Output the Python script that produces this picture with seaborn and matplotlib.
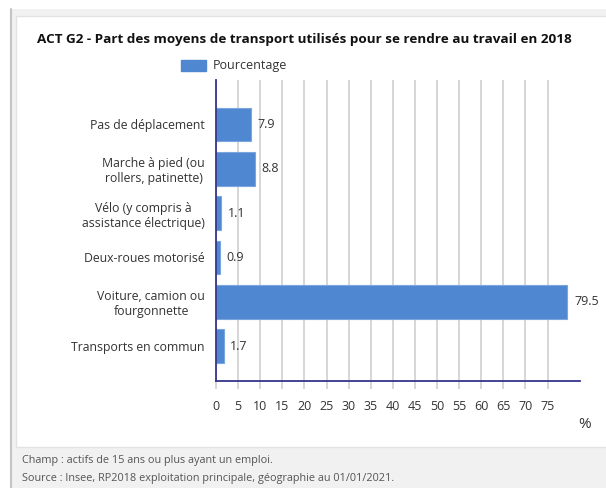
import matplotlib
matplotlib.use("Agg")
import matplotlib.pyplot as plt
import matplotlib.patches as mpatches
import matplotlib.lines as mlines
import seaborn as sns
import pandas as pd

# -- Data ------------------------------------------------------------------
categories = [
    "Pas de déplacement",
    "Marche à pied (ou\nrollers, patinette)",
    "Vélo (y compris à\nassistance électrique)",
    "Deux-roues motorisé",
    "Voiture, camion ou\nfourgonnette",
    "Transports en commun",
]
values = [7.9, 8.8, 1.1, 0.9, 79.5, 1.7]
x_ticks = list(range(0, 80, 5))

title = "ACT G2 - Part des moyens de transport utilisés pour se rendre au travail en 2018"
series_name = "Pourcentage"
footer = [
    "Champ : actifs de 15 ans ou plus ayant un emploi.",
    "Source : Insee, RP2018 exploitation principale, géographie au 01/01/2021.",
]

df = pd.DataFrame({"cat": categories, "val": values})

# -- Style -----------------------------------------------------------------
sns.set_theme(style="white")
plt.rcParams["font.family"] = ["Open Sans", "DejaVu Sans"]

W, H = 606, 488
BAR = "#4f87d1"
AXIS = "#34348a"
TXT = "#333333"

fig = plt.figure(figsize=(W / 100, H / 100), dpi=100, facecolor="white")

# grey frame + white panel behind the chart
fig.patches.append(mpatches.Rectangle((10 / W, 0), 1, 1 - 9 / H,
                                      transform=fig.transFigure, facecolor="#f1f1f1",
                                      edgecolor="none", zorder=-6))
fig.lines.append(mlines.Line2D([11 / W, 11 / W], [0, 1 - 9 / H], transform=fig.transFigure,
                               color="#c4c4c4", linewidth=1.5, zorder=-5))
fig.patches.append(mpatches.Rectangle((16 / W, 1 - 447 / H), 1, (447 - 16) / H,
                                      transform=fig.transFigure, facecolor="white",
                                      edgecolor="#e2e2e2", linewidth=1, zorder=-4))

ax = fig.add_axes([216 / W, 1 - 381 / H, 364 / W, (381 - 80) / H])
ax.set_facecolor("none")
ax.set_zorder(2)

sns.barplot(data=df, x="val", y="cat", color=BAR, saturation=1, width=0.76, ax=ax,
            edgecolor="#7aa6e0", linewidth=0.8, zorder=3)

ax.set_xlim(0, 364 / 4.42)
ax.set_ylim(5 + 35 / 44.3, -44.5 / 44.3)
ax.set_xticks(x_ticks)
ax.set_xticklabels([str(t) for t in x_ticks], fontsize=9, color=TXT)
ax.xaxis.grid(True, color="#d0d0d0", linewidth=1.2, zorder=0)
ax.set_axisbelow(True)
ax.tick_params(axis="x", length=6, color="#d0d0d0", width=1.2, pad=8, bottom=True)
ax.tick_params(axis="y", length=0, pad=8)
for lab in ax.get_yticklabels():
    lab.set_multialignment("center")
    lab.set_fontsize(8.8)
    lab.set_color(TXT)
ax.set_xlabel("")
ax.set_ylabel("")

for side in ["top", "right"]:
    ax.spines[side].set_visible(False)
for side in ["left", "bottom"]:
    ax.spines[side].set_color(AXIS)
    ax.spines[side].set_linewidth(1.3)
    ax.spines[side].set_zorder(4)

# value labels
for i, v in enumerate(values):
    ax.text(v + 1.5, i, f"{v}", va="center", ha="left", fontsize=9, color=TXT)

# legend
fig.legend(handles=[mpatches.Patch(color=BAR, label=series_name)],
           loc="center left", bbox_to_anchor=(170 / W, 1 - 66 / H), frameon=False,
           handlelength=2.0, handleheight=1.0, handletextpad=0.5, fontsize=9,
           labelcolor=TXT)

fig.text(37 / W, 1 - 40 / H, title, fontsize=9.7, fontweight="bold", color="#111111",
         va="center", ha="left")
fig.text(585 / W, 1 - 425 / H, "%", fontsize=11, color=TXT, ha="center", va="center")

fig.text(22 / W, 1 - 461 / H, footer[0], fontsize=7.8, color="#555555", va="center")
fig.text(22 / W, 1 - 478 / H, footer[1], fontsize=7.8, color="#555555", va="center")

fig.savefig("out.png", dpi=100, facecolor=fig.get_facecolor())
